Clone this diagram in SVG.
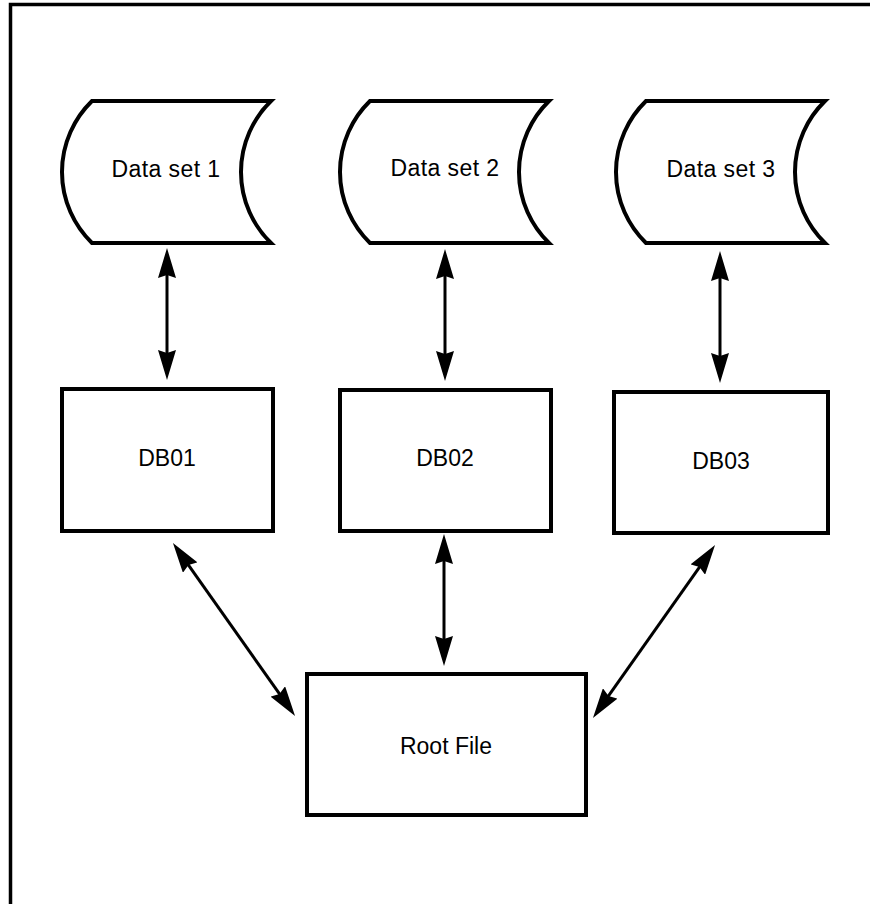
<svg xmlns="http://www.w3.org/2000/svg" width="870" height="904" viewBox="0 0 870 904">
<style>
.shape{fill:#fff;stroke:#000;stroke-width:4;stroke-linejoin:miter}
.lbl{font-family:"Liberation Sans",Arial,sans-serif;font-size:23px;fill:#000;text-anchor:middle}
.ds{letter-spacing:0.4px}
.conn{stroke:#000;stroke-width:3;fill:none;marker-start:url(#ah);marker-end:url(#ah)}
.frame{stroke:#000;stroke-width:3.5;fill:none}
</style>
<defs>
<marker id="ah" viewBox="0 0 30 18" refX="15" refY="9" markerWidth="30" markerHeight="18" markerUnits="userSpaceOnUse" orient="auto-start-reverse">
<path d="M0,0 L30,9 L0,18 L3,9 Z" fill="#000"/>
</marker>
</defs>
<rect width="870" height="904" fill="#fff"/>
<g id="frame">
<path class="frame" d="M10.5,904 L10.5,4.5 L870,4.5"/>
</g>
<g id="ds1">
<path class="shape" d="M92,101 L271,101 A99,99 0 0 0 271,243 L92,243 A99,99 0 0 1 92,101 Z"/>
<text class="lbl ds" x="166" y="177">Data set 1</text>
</g>
<g id="ds2">
<path class="shape" d="M370,101 L549,101 A99,99 0 0 0 549,243 L370,243 A99,99 0 0 1 370,101 Z"/>
<text class="lbl ds" x="445" y="176">Data set 2</text>
</g>
<g id="ds3">
<path class="shape" d="M646,101 L825,101 A99,99 0 0 0 825,243 L646,243 A99,99 0 0 1 646,101 Z"/>
<text class="lbl ds" x="721" y="177">Data set 3</text>
</g>
<g id="db01">
<rect class="shape" x="62" y="389" width="211" height="142"/>
<text class="lbl" x="167" y="466">DB01</text>
</g>
<g id="db02">
<rect class="shape" x="340" y="390" width="211" height="141"/>
<text class="lbl" x="445" y="466">DB02</text>
</g>
<g id="db03">
<rect class="shape" x="614" y="392" width="214" height="141"/>
<text class="lbl" x="721" y="469">DB03</text>
</g>
<g id="root">
<rect class="shape" x="307" y="674" width="279" height="141"/>
<text class="lbl" x="446" y="754">Root File</text>
</g>
<g id="connectors">
<line class="conn" x1="167" y1="263" x2="167" y2="365"/>
<line class="conn" x1="445" y1="264" x2="445" y2="366"/>
<line class="conn" x1="720" y1="266" x2="720" y2="368"/>
<line class="conn" x1="181.6" y1="555.3" x2="286.4" y2="703.7"/>
<line class="conn" x1="444" y1="549" x2="444" y2="651"/>
<line class="conn" x1="706.4" y1="557.3" x2="601.6" y2="705.7"/>
</g>
</svg>
